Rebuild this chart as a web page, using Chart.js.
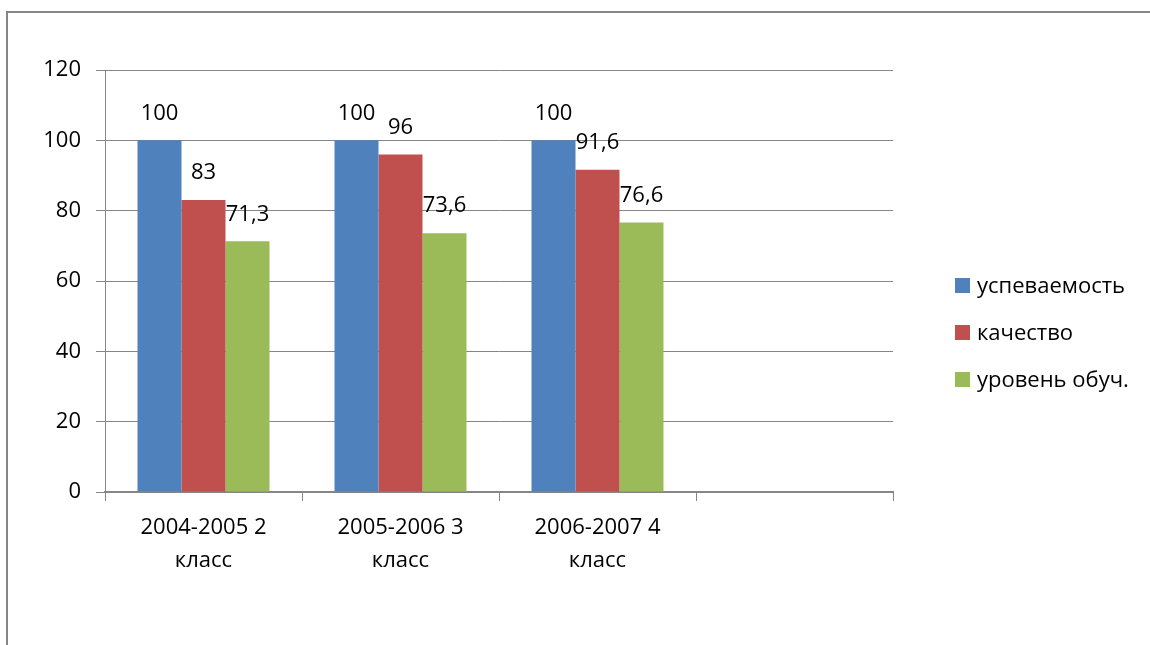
<!DOCTYPE html>
<html><head><meta charset="utf-8">
<script src="https://cdn.jsdelivr.net/npm/chart.js@4/dist/chart.umd.min.js"></script>
<style>
body{margin:0;background:#fff;}
#wrap{position:relative;width:1150px;height:645px;}
#legend{position:absolute;left:955px;top:270px;font-family:"Open Sans",sans-serif;font-size:22px;color:#000;}
.li{position:absolute;left:0;white-space:nowrap;height:30px;line-height:30px;}
.sw{position:absolute;left:0;top:8px;width:15px;height:15px;}
.tx{position:absolute;left:22px;top:-1px;}
</style></head>
<body><div id="wrap"><canvas id="c" width="1150" height="645"></canvas><div id="legend"></div></div>
<script>
const categories = [["2004-2005 2","класс"],["2005-2006 3","класс"],["2006-2007 4","класс"],""];
const seriesNames = ["успеваемость","качество","уровень обуч."];
const uspevaemost = [100,100,100,null];
const kachestvo = [83,96,91.6,null];
const uroven = [71.3,73.6,76.6,null];
const colors = ["#4F81BD","#C0504D","#9BBB59"];
const yTicks = [0,20,40,60,80,100,120];

const font = {family:'"Open Sans", sans-serif', size:22};

const legendEl = document.getElementById('legend');
seriesNames.forEach((n,i)=>{
  const d=document.createElement('div');d.className='li';d.style.top=(i*47)+'px';
  d.innerHTML='<span class="sw" style="background:'+colors[i]+'"></span><span class="tx">'+n+'</span>';
  legendEl.appendChild(d);
});

const frame = {id:'frame',beforeDraw(chart){const c=chart.ctx;c.save();c.strokeStyle='#868686';c.lineWidth=2;c.beginPath();c.moveTo(7,645);c.lineTo(7,12);c.lineTo(1150,12);c.stroke();c.restore();}};
const labels = {id:'vlabels',afterDatasetsDraw(chart){const c=chart.ctx;c.save();c.font='22px "Open Sans", sans-serif';c.fillStyle='#000';c.textAlign='center';c.textBaseline='middle';
  chart.data.datasets.forEach((ds,i)=>{chart.getDatasetMeta(i).data.forEach((el,j)=>{const v=ds.data[j];if(v==null)return;c.fillText(String(v).replace('.',','),el.x,el.y-27);});});c.restore();}};

new Chart(document.getElementById('c'),{
  type:'bar',
  data:{labels:categories,datasets:[
    {label:seriesNames[0],data:uspevaemost,backgroundColor:colors[0]},
    {label:seriesNames[1],data:kachestvo,backgroundColor:colors[1]},
    {label:seriesNames[2],data:uroven,backgroundColor:colors[2]}]},
  options:{responsive:false,animation:false,
    categoryPercentage:0.67,barPercentage:1,
    layout:{padding:{top:70,right:257,left:0,bottom:0}},
    plugins:{legend:{display:false},tooltip:{enabled:false}},
    scales:{
      x:{grid:{offset:true,drawOnChartArea:false,tickLength:9,color:'#868686'},border:{color:'#868686',width:2},
        ticks:{color:'#000',font:{...font,lineHeight:1.5},padding:10,maxRotation:0},
        afterFit(s){s.height=153;}},
      y:{min:0,max:120,grid:{color:'#868686',tickLength:9},border:{color:'#868686',width:1},
        afterBuildTicks(s){s.ticks=yTicks.map(v=>({value:v}));},
        ticks:{color:'#000',font:font,padding:15},
        afterFit(s){s.width=105;}}
    }},
  plugins:[frame,labels]
});
</script></body></html>
